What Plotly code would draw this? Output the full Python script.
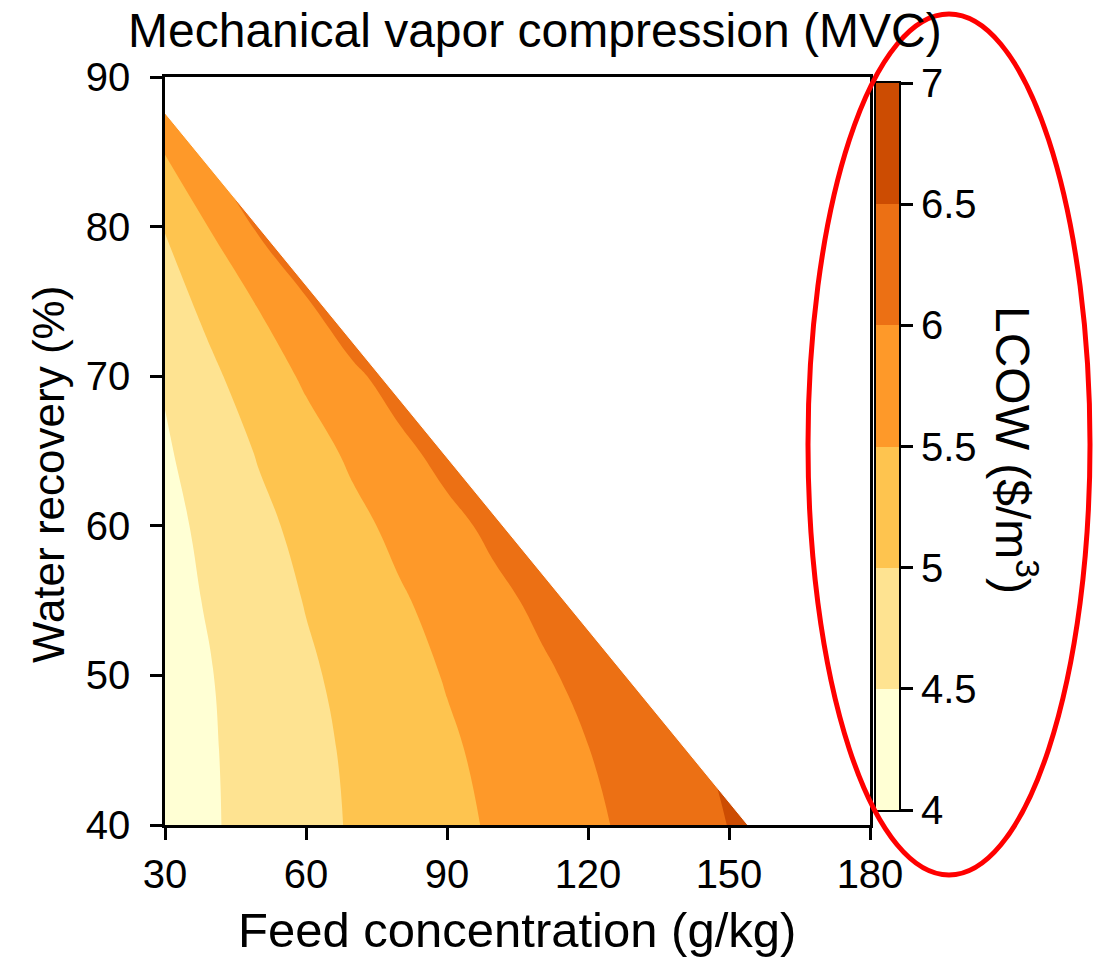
import plotly.graph_objects as go

# ---------------- data ----------------
feed_conc = [30, 40, 50, 60, 70, 80, 90, 100, 110, 120, 130, 140, 150, 160, 170, 180]   # g/kg
water_recovery = [40, 45, 50, 55, 60, 65, 70, 75, 80, 85, 90]                           # %
# LCOW ($/m3), rows follow water_recovery, columns follow feed_conc
lcow = [
    [4.27, 4.46, 4.66, 4.85, 5.04, 5.21, 5.38, 5.55, 5.73, 5.91, 6.10, 6.30, 6.51, 6.71, 6.91, 7.12],
    [4.27, 4.47, 4.67, 4.87, 5.07, 5.25, 5.43, 5.62, 5.81, 5.99, 6.20, 6.40, 6.60, 6.80, 7.01, 7.20],
    [4.29, 4.49, 4.71, 4.93, 5.13, 5.33, 5.53, 5.73, 5.92, 6.13, 6.34, 6.54, 6.75, 6.96, 7.17, 7.37],
    [4.33, 4.55, 4.79, 5.02, 5.24, 5.45, 5.66, 5.88, 6.10, 6.32, 6.54, 6.76, 6.98, 7.20, 7.42, 7.64],
    [4.37, 4.62, 4.88, 5.14, 5.38, 5.62, 5.86, 6.11, 6.36, 6.61, 6.86, 7.11, 7.36, 7.61, 7.86, 8.11],
    [4.45, 4.73, 5.04, 5.31, 5.59, 5.88, 6.17, 6.46, 6.75, 7.04, 7.33, 7.62, 7.91, 8.20, 8.49, 8.78],
    [4.54, 4.92, 5.25, 5.57, 5.90, 6.23, 6.56, 6.89, 7.22, 7.55, 7.88, 8.21, 8.54, 8.87, 9.20, 9.53],
    [4.80, 5.15, 5.54, 5.96, 6.39, 6.82, 7.25, 7.68, 8.11, 8.54, 8.97, 9.40, 9.83, 10.26, 10.69, 11.12],
    [5.02, 5.54, 6.07, 6.60, 7.13, 7.66, 8.19, 8.72, 9.25, 9.78, 10.31, 10.84, 11.37, 11.90, 12.43, 12.96],
    [5.52, 6.05, 6.65, 7.25, 7.85, 8.45, 9.05, 9.65, 10.25, 10.85, 11.45, 12.05, 12.65, 13.25, 13.85, 14.45],
    [6.02, 6.60, 7.20, 7.80, 8.40, 9.00, 9.60, 10.20, 10.80, 11.40, 12.00, 12.60, 13.20, 13.80, 14.40, 15.00],
]
# feasibility limit (white, infeasible region above this line)
limit_feed = [30, 154]
limit_recovery = [87.6, 40]

lcow_levels = [4.0, 4.5, 5.0, 5.5, 6.0, 6.5, 7.0]
lcow_labels = ["4", "4.5", "5", "5.5", "6", "6.5", "7"]
x_ticks = [30, 60, 90, 120, 150, 180]
y_ticks = [40, 50, 60, 70, 80, 90]

# ---------------- styles ----------------
band_colors = ["#FFFFD4", "#FEE391", "#FEC44F", "#FE9929", "#EC7014", "#CC4C02"]
FONT = "Arial, Liberation Sans, sans-serif"
W, H = 1094, 958
ML, MR, MT, MB = 165, 195, 77, 133
PW, PH = W - ML - MR, H - MT - MB


def px(xp):
    return (xp - ML) / PW


def py(yp):
    return (H - MB - yp) / PH


# stepwise colorscale (each band centred on k/7)
ext_colors = [band_colors[0]] + band_colors + [band_colors[-1]]
n = len(ext_colors) - 1
colorscale = []
for k, c in enumerate(ext_colors):
    colorscale.append([max(0.0, (k - 0.5) / n), c])
    colorscale.append([min(1.0, (k + 0.5) / n), c])

step = lcow_levels[1] - lcow_levels[0]
x_min, x_max = x_ticks[0], x_ticks[-1]
y_min, y_max = y_ticks[0], y_ticks[-1]

fig = go.Figure()

fig.add_trace(go.Contour(
    x=feed_conc, y=water_recovery, z=lcow,
    contours=dict(start=lcow_levels[0], end=lcow_levels[-1], size=step,
                  coloring="fill", showlines=False),
    colorscale=colorscale, showscale=False,
    line=dict(width=0, smoothing=1.3),
    hoverinfo="skip",
))

# infeasible region mask
fig.add_trace(go.Scatter(
    x=[limit_feed[0], limit_feed[1], x_max, x_max, limit_feed[0], limit_feed[0]],
    y=[limit_recovery[0], limit_recovery[1], y_min, y_max, y_max, limit_recovery[0]],
    mode="lines", fill="toself", fillcolor="white",
    line=dict(color="white", width=1),
    hoverinfo="skip", showlegend=False,
))

# colour bar drawn as a heatmap of the band mid-values
mids = [(a + b) / 2 for a, b in zip(lcow_levels[:-1], lcow_levels[1:])]
fig.add_trace(go.Heatmap(
    x=[0], y=mids, z=[[m] for m in mids],
    colorscale=colorscale, zmin=lcow_levels[0], zmax=lcow_levels[-1],
    showscale=False, xaxis="x2", yaxis="y2", hoverinfo="skip",
))

axis_common = dict(
    showline=True, linecolor="black", linewidth=2.5, mirror=True,
    ticks="outside", ticklen=12, tickwidth=2.5, tickcolor="black",
    showgrid=False, zeroline=False,
    tickfont=dict(family=FONT, size=40, color="black"),
)

fig.update_layout(
    width=W, height=H,
    margin=dict(l=ML, r=MR, t=MT, b=MB, pad=0),
    paper_bgcolor="white", plot_bgcolor="white",
    showlegend=False,
    font=dict(family=FONT, color="black"),
    xaxis=dict(range=[x_min, x_max], tickvals=x_ticks, domain=[0, 705 / PW], anchor="y",
               **axis_common),
    yaxis=dict(range=[y_min, y_max], tickvals=y_ticks, domain=[0, 1], anchor="x",
               ticklabelstandoff=12, **axis_common),
    xaxis2=dict(domain=[px(876), 1.0], anchor="y2", range=[-0.5, 0.5],
                showticklabels=False, ticks="", showgrid=False, zeroline=False,
                showline=True, linecolor="black", linewidth=2, mirror=True),
    yaxis2=dict(domain=[py(810), py(83)], anchor="x2", side="right",
                range=[lcow_levels[0], lcow_levels[-1]],
                tickvals=lcow_levels, ticktext=lcow_labels,
                showline=True, linecolor="black", linewidth=2, mirror=True,
                ticks="outside", ticklen=12, tickwidth=2.5, tickcolor="black",
                showgrid=False, zeroline=False,
                tickfont=dict(family=FONT, size=40, color="black")),
    annotations=[
        dict(text="Mechanical vapor compression (MVC)", x=px(535), y=py(30),
             xref="paper", yref="paper", xanchor="center", yanchor="middle",
             showarrow=False, font=dict(family=FONT, size=48, color="black")),
        dict(text="Feed concentration (g/kg)", x=px(517), y=py(930),
             xref="paper", yref="paper", xanchor="center", yanchor="middle",
             showarrow=False, font=dict(family=FONT, size=49, color="black")),
        dict(text="Water recovery (%)", x=px(48), y=py(475), textangle=-90,
             xref="paper", yref="paper", xanchor="center", yanchor="middle",
             showarrow=False, font=dict(family=FONT, size=44, color="black")),
        dict(text="LCOW ($/m<sup>3</sup>)", x=px(1016), y=py(450), textangle=90,
             xref="paper", yref="paper", xanchor="center", yanchor="middle",
             showarrow=False, font=dict(family=FONT, size=48, color="black")),
    ],
    shapes=[
        dict(type="circle", xref="paper", yref="paper",
             x0=px(808), x1=px(1090), y0=py(875), y1=py(14),
             line=dict(color="red", width=5), layer="above"),
    ],
)

fig.write_html("out.html")
